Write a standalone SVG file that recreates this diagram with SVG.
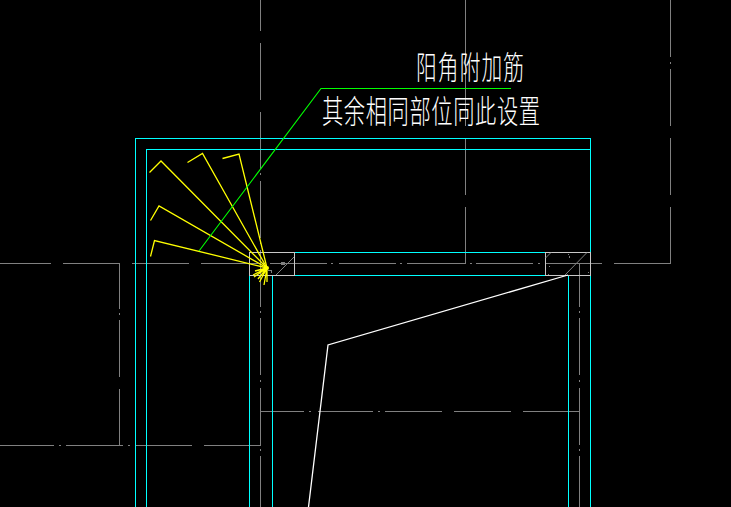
<svg xmlns="http://www.w3.org/2000/svg" width="731" height="507" viewBox="0 0 731 507">
<style>
line,path,polyline{fill:none;stroke-width:1}
.g{stroke:#808080;shape-rendering:crispEdges}
.c{stroke:#00ffff;shape-rendering:crispEdges}
.b{stroke:#c8c8c8;shape-rendering:crispEdges}
.y{stroke:#ffff00;stroke-width:1.3}
.gr{stroke:#00ff00;stroke-width:1.1}
.w{stroke:#ffffff;stroke-width:1.3}
text{font-family:"Noto Sans CJK SC","Noto Sans",sans-serif;font-weight:300;fill:#ffffff;font-size:28px}
</style>
<rect width="731" height="507" fill="#000000"/>
<g id="axes">
<path class="g" d="M0 263.5H51M63 263.5H120M132 263.5H189M201 263.5H258M263 263.5H265M270 263.5H327M331 263.5H333M339 263.5H396M400 263.5H402M407 263.5H465M470 263.5H472M476 263.5H533M538 263.5H540M545 263.5H602M614 263.5H670.5V207M670.5 195V138M670.5 126V69M670.5 64V62M670.5 57V0"/>
<path class="g" d="M260.5 0V31M260.5 43V100M260.5 112V169M260.5 173V175M260.5 181V238M260.5 242V244M260.5 250V307M260.5 311V313M260.5 318V375M260.5 380V382M260.5 388V445M260.5 449V451M260.5 456V507"/>
<path class="g" d="M119.5 263.5V309M119.5 313V315M119.5 320V377M119.5 389V445.5"/>
<path class="g" d="M0 445.5H54M59 445.5H61M66 445.5H123M128 445.5H130M135 445.5H192M204 445.5H260.5"/>
<path class="g" d="M579.5 263.5V307M579.5 311V313M579.5 318V375M579.5 380V382M579.5 388V445M579.5 449V451M579.5 456V507"/>
<path class="g" d="M465.5 0V126M465.5 138V195M465.5 207V263.5"/>
<path class="g" d="M260.5 411.5H304M309 411.5H311M318 411.5H373M378 411.5H380M385 411.5H442M454 411.5H511M523 411.5H579.5"/>
</g>
<g id="walls">
<path class="c" d="M135.5 507V138.5H590.5V507"/>
<path class="c" d="M146.5 507V149.5H590.5"/>
<path class="c" d="M249.5 275.5V507M272.5 275.5V507M568.5 275.5V507"/>
<path class="c" d="M294.5 252.5H545.5M294.5 275.5H545.5"/>
</g>
<g id="corner-left">
<rect class="b" x="249.5" y="252.5" width="45" height="23" fill="none"/>
<line class="g" x1="276" y1="275" x2="294" y2="257" style="shape-rendering:auto"/>
<rect x="281" y="262" width="4" height="3" fill="#808080"/>
<path class="g" d="M268 270.5H271V273"/>
</g>
<g id="corner-right">
<rect class="b" x="545.5" y="252.5" width="45" height="23" fill="none"/>
<line class="g" x1="565" y1="275" x2="587" y2="252.5" style="shape-rendering:auto"/>
<line class="g" x1="545.5" y1="258" x2="551" y2="252.5" style="shape-rendering:auto"/>
<path class="g" d="M568 254.5h1M569 256.5h1M569 257.5h1M549 266.5h1M548 274.5h1M588 272.5h1"/>
</g>
<g id="rebars">
<polyline class="y" points="149.5,172.5 161,161 267,268"/>
<polyline class="y" points="187.5,162.5 202.5,153.5 267,268"/>
<polyline class="y" points="222.5,158.5 239,154 267,268"/>
<polyline class="y" points="150.5,220.5 159,206 267,268"/>
<polyline class="y" points="150.5,256.5 154.5,240.5 267,268"/>
<path class="y" d="M267 268L253 275M267 268L254 277M267 268L258 279M267 268L259.5 282M267 268L264 285M267 268L267 282M267 268L255 271"/>
<circle cx="267" cy="268" r="2" fill="#ffff00"/>
</g>
<g id="section-line">
<polyline class="w" points="308.5,507 328,345 568,275"/>
</g>
<g id="leader">
<polyline class="gr" points="199,251 321,88.5 511,88.5"/>
</g>
<g id="labels">
<text transform="translate(416,79) scale(0.74,1.12)" letter-spacing="1.5">阳角附加筋</text>
<text transform="translate(322,123) scale(0.76,1.12)" letter-spacing="0.8">其余相同部位同此设置</text>
</g>
</svg>
